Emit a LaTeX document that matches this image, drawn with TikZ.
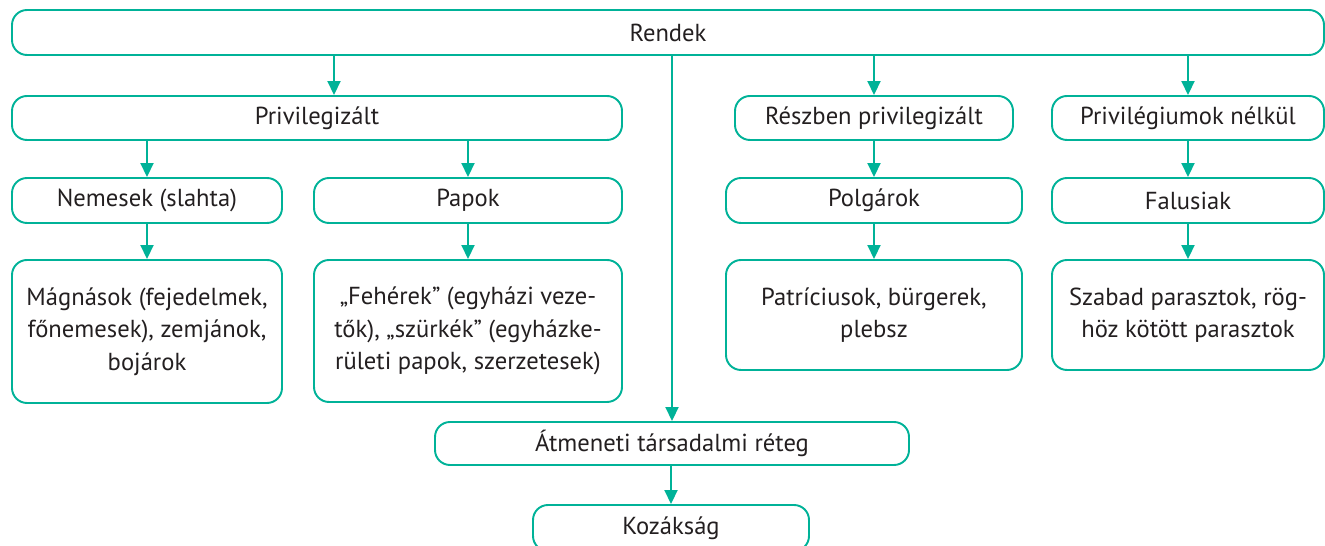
\documentclass[tikz,border=0pt]{standalone}
\usepackage{fontspec}
\setmainfont{PT Sans}
\usetikzlibrary{arrows.meta}
\definecolor{rendteal}{RGB}{0,178,152}
\definecolor{rendink}{RGB}{35,31,32}

\begin{document}
\begin{tikzpicture}[x=0.02cm, y=-0.02cm,
box/.style={draw=rendteal, line width=1.1pt, rounded corners=0.3cm, inner sep=0pt, text=rendink, font=\fontsize{14}{18.5}\selectfont, align=center, minimum height=0.9cm},
arr/.style={draw=rendteal, line width=1.1pt, -{Triangle[width=0.26cm, length=0.28cm]}}]
\def\px{0.02cm}
\useasboundingbox (0,0) rectangle (1325,546);
% top
\node[box, minimum width=1312*\px] (rendek) at (668,32.5) {Rendek};
% second row
\node[box, minimum width=278*\px, minimum height=44*\px] (reszben) at (874,118) {Részben privilegizált};
\node[box, minimum width=610*\px, minimum height=44*\px] (priv) at (317,118) {Privilegizált};
\node[box, minimum width=272*\px, minimum height=44*\px] (nelkul) at (1188,118) {Privilégiumok nélkül};
% third row
\node[box, minimum width=270*\px] (nemesek) at (147,200.5) {Nemesek (slahta)};
\node[box, minimum width=308*\px] (papok) at (468,200.5) {Papok};
\node[box, minimum width=296*\px] (polgarok) at (874,200.5) {Polgárok};
\node[box, minimum width=272*\px] (falusiak) at (1188,200.5) {Falusiak};
% lower boxes
\node[box, minimum width=270*\px, minimum height=143*\px] (magnasok) at (147,331.5) {Mágnások (fejedelmek,\\főnemesek), zemjánok,\\bojárok};
\node[box, minimum width=308*\px, minimum height=142*\px] (feherek) at (468,331) {„Fehérek” (egyházi veze-\\tők), „szürkék” (egyházke-\\rületi papok, szerzetesek)};
\node[box, minimum width=296*\px, minimum height=110*\px] (patricius) at (874,315) {Patríciusok, bürgerek,\\plebsz};
\node[box, minimum width=272*\px, minimum height=110*\px] (szabad) at (1188,315) {Szabad parasztok, rög-\\höz kötött parasztok};
% bottom
\node[box, minimum width=474*\px, minimum height=43*\px] (atmeneti) at (672,443.5) {Átmeneti társadalmi réteg};
\node[box, minimum width=276*\px, minimum height=46*\px] (kozak) at (671,528) {Kozákság};
% arrows
\draw[arr] ([xshift=17*\px]rendek.south -| priv.north) -- ([xshift=17*\px]priv.north);
\draw[arr] (rendek.south -| atmeneti.north) -- (atmeneti.north);
\draw[arr] (rendek.south -| reszben.north) -- (reszben.north);
\draw[arr] (rendek.south -| nelkul.north) -- (nelkul.north);
\draw[arr] (priv.south -| nemesek.north) -- (nemesek.north);
\draw[arr] (priv.south -| papok.north) -- (papok.north);
\draw[arr] (reszben.south) -- (polgarok.north);
\draw[arr] (nelkul.south) -- (falusiak.north);
\draw[arr] (nemesek.south) -- (magnasok.north);
\draw[arr] (papok.south) -- (feherek.north);
\draw[arr] (polgarok.south) -- (patricius.north);
\draw[arr] (falusiak.south) -- (szabad.north);
\draw[arr] (atmeneti.south -| kozak.north) -- (kozak.north);
\end{tikzpicture}
\end{document}
